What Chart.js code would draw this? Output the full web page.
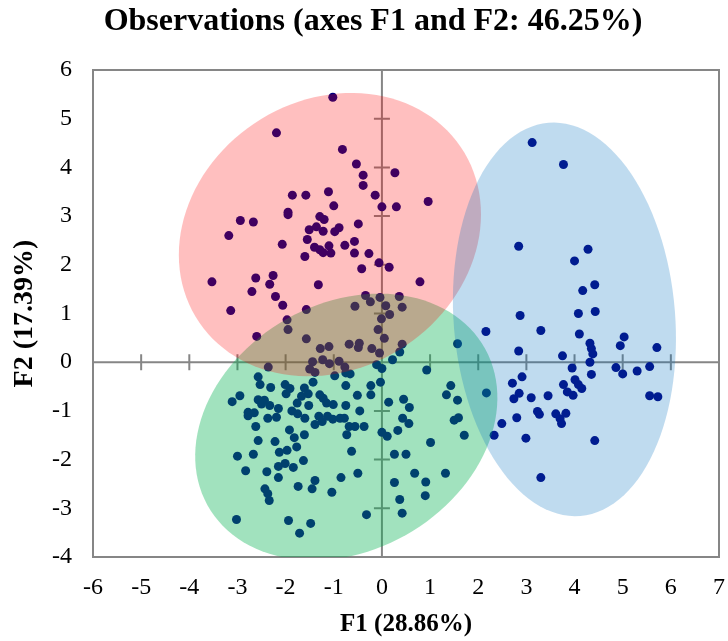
<!DOCTYPE html>
<html>
<head>
<meta charset="utf-8">
<title>Observations (axes F1 and F2)</title>
<script src="https://cdn.jsdelivr.net/npm/chart.js@4.4.1/dist/chart.umd.min.js"></script>
<style>
  html, body { margin: 0; padding: 0; background: #ffffff; }
  canvas { display: block; }
</style>
</head>
<body>
<canvas id="pcaChart" width="728" height="641"></canvas>
<script>
// =========================
// Observation scores (F1, F2)
// =========================

const chartTitle = "Observations (axes F1 and F2: 46.25%)";

// upper group
const group1X = [-1.02, -2.19, -0.82, -0.53, -0.39, -0.39, 0.27, -0.14, 0.00, 0.30, 0.96, -1.86, -1.58, -1.11, -1.00,
  -1.95, -1.95, -2.94, -2.67, -3.18, -1.29, -1.20, -1.36, -1.51, -1.22, -0.89, -0.98, -0.49, -1.55, -2.07, -1.40,
  -1.10, -0.77, -0.57, -1.29, -1.22, -1.06, -0.57, -0.27, -1.60, -0.42, -0.06, 0.15, 0.79, -3.53, -3.14, -2.62,
  -2.26, -2.33, -2.70, -2.21, -2.06, -2.60, -1.97, -1.95, -1.57, -1.57, -1.32, -0.34, -0.24, -0.04, 0.08, 0.16,
  -0.01, 0.36, 0.42, -0.56, -0.08, 0.05, 0.42, -1.28, -1.10, -0.68, -0.47, -0.49, -0.21, -0.05, -1.44, -1.23,
  -1.09, -0.89, -0.77, -1.50, -1.39, -2.36];
const group1Y = [5.44, 4.71, 4.37, 4.07, 3.84, 3.63, 3.89, 3.43, 3.19, 3.19, 3.30, 3.43, 3.43, 3.50, 3.21,
  3.08, 3.03, 2.91, 2.88, 2.60, 2.99, 2.93, 2.78, 2.72, 2.69, 2.76, 2.68, 2.84, 2.52, 2.42, 2.36,
  2.39, 2.40, 2.48, 2.31, 2.25, 2.24, 2.24, 2.23, 2.17, 1.92, 2.04, 1.95, 1.65, 1.65, 1.06, 1.73,
  1.78, 1.60, 1.45, 1.35, 1.17, 0.53, 0.87, 0.67, 1.08, 0.48, 1.59, 1.37, 1.24, 1.33, 1.16, 0.98,
  0.89, 1.35, 1.13, 1.15, 0.67, 0.49, 0.37, 0.28, 0.32, 0.37, 0.39, 0.30, 0.28, 0.19, 0.01, 0.05,
  -0.03, 0.02, -0.10, -0.14, -0.21, -0.10];

// lower-left group
const group2X = [-0.11, 0.00, 0.22, 0.37, 0.93, -0.75, -0.03, 1.43, 1.34, 1.57, 0.14, 0.45, 0.57, 0.43, 0.56,
  0.33, 0.00, 0.11, 1.50, 1.59, 1.71, 1.01, 0.26, 0.50, 0.68, 1.32, 0.26, 0.91, 0.90, 0.37, 0.42, 1.57,
  -2.57, -2.53, -2.31, -2.01, -1.99, -1.91, -1.61, -1.53, -1.43, -0.98, -0.75, -0.66, -0.23, -0.23, -0.51,
  -2.95, -3.11, -2.57, -2.44, -2.50, -2.33, -2.15, -2.78, -2.65, -2.78, -2.37, -2.19, -2.62, -1.87, -1.76,
  -1.67, -1.52, -1.75, -1.60, -1.29, -1.22, -1.15, -1.01, -0.75, -0.46, -1.31, -1.24, -1.39, -1.13, -1.02,
  -0.87, -0.78, -0.68, -0.56, -0.37, -0.73, -1.92, -1.82, -1.61, -2.57, -2.22, -1.77, -1.97, -2.13, -3.00,
  -2.67, -1.63, -0.63, -2.15, -2.01, -1.84, -2.83, -2.39, -2.15, -1.39, -1.45, -1.74, -0.85, -0.50, -1.04,
  -2.43, -2.37, -2.34, -3.02, -1.94, -1.48, -1.71, -0.32];
const group2Y = [-0.05, -0.13, 0.05, 0.21, -0.16, -0.22, -0.41, -0.48, -0.67, -0.78, -0.82, -0.76, -0.93, -1.15, -1.26,
  -1.40, -1.44, -1.52, -1.19, -1.14, -1.50, -1.65, -1.89, -1.89, -2.28, -2.28, -2.47, -2.46, -2.74, -2.82, -3.10, 0.38,
  -0.30, -0.46, -0.52, -0.46, -0.65, -0.54, -0.53, -0.65, -0.41, -0.28, -0.48, -0.24, -0.48, -0.67, -0.68,
  -0.69, -0.81, -0.77, -0.78, -0.86, -0.89, -0.95, -1.03, -1.04, -1.10, -1.15, -1.13, -1.32, -1.00, -0.84,
  -0.70, -0.89, -1.06, -1.15, -0.67, -0.74, -0.84, -0.87, -0.89, -1.00, -1.11, -1.22, -1.28, -1.11, -1.17,
  -1.15, -1.15, -1.32, -1.32, -1.32, -1.49, -1.39, -1.55, -1.49, -1.61, -1.63, -1.74, -1.81, -1.85, -1.93,
  -1.89, -2.02, -1.83, -2.14, -2.08, -2.16, -2.23, -2.25, -2.37, -2.43, -2.60, -2.55, -2.37, -2.28, -2.67,
  -2.60, -2.70, -2.84, -3.23, -3.25, -3.31, -3.51, -3.13];

// right group
const group3X = [3.12, 3.77, 2.84, 4.28, 4.00, 4.42, 4.17, 2.87, 4.08, 4.43, 2.16, 3.30, 4.10, 5.03, 2.84,
  3.75, 4.32, 4.35, 4.38, 4.32, 4.95, 5.71, 3.95, 4.86, 5.00, 5.30, 5.56, 4.35, 2.91, 2.71, 4.01, 3.77,
  4.08, 4.15, 3.85, 3.97, 2.85, 2.74, 3.10, 3.45, 5.56, 5.73, 3.23, 3.27, 3.61, 3.82, 3.70, 3.73, 2.80,
  2.49, 2.33, 2.99, 4.42, 3.30, 2.17];
const group3Y = [4.51, 4.06, 2.38, 2.32, 2.08, 1.59, 1.47, 0.96, 1.00, 1.04, 0.63, 0.65, 0.58, 0.52, 0.23,
  0.13, 0.39, 0.28, 0.17, 0.00, 0.34, 0.30, -0.12, -0.11, -0.24, -0.18, -0.09, -0.25, -0.30, -0.43, -0.36, -0.46,
  -0.46, -0.54, -0.61, -0.68, -0.64, -0.75, -0.73, -0.69, -0.69, -0.71, -1.01, -1.07, -1.06, -1.05, -1.16, -1.26, -1.14,
  -1.26, -1.50, -1.56, -1.61, -2.37, -0.63];

// =========================
// Group ellipses (draw order: lower-left, upper, right)
// =========================

const ellipseCenterX = [-0.74, -1.08, 3.79];
const ellipseCenterY = [-1.33, 2.62, 0.88];
const ellipseSemiMajor = [3.30, 3.26, 4.05];
const ellipseSemiMinor = [2.54, 2.77, 2.30];
const ellipseAngleDeg = [29, 31, 94.7];
const ellipseColors = ["rgba(0, 176, 80, 0.37)", "rgba(255, 0, 0, 0.25)", "rgba(0, 112, 192, 0.25)"];

const xTickMin = -6;
const xTickMax = 7;
const yTickMin = -4;
const yTickMax = 6;

const AXIS_GREY = "#868686";
const POINT_COLOR = "#000080";
const serif = "'Liberation Serif', 'Times New Roman', serif";

function toPoints(xs, ys) {
  return xs.map((x, i) => ({ x, y: ys[i] }));
}

const allPoints = [
  ...toPoints(group1X, group1Y),
  ...toPoints(group2X, group2Y),
  ...toPoints(group3X, group3Y),
];

// =========================
// Plugins
// =========================

// frame around the plot area + axes crossing at the origin
const crossAxesPlugin = {
  id: "crossAxes",
  beforeDatasetsDraw(chart) {
    const { ctx, chartArea, scales } = chart;
    const x0 = scales.x.getPixelForValue(0);
    const y0 = scales.y.getPixelForValue(0);
    ctx.save();
    ctx.strokeStyle = AXIS_GREY;
    ctx.lineWidth = 2;

    ctx.beginPath();
    ctx.moveTo(chartArea.left, y0);
    ctx.lineTo(chartArea.right, y0);
    ctx.moveTo(x0, chartArea.top);
    ctx.lineTo(x0, chartArea.bottom);

    for (let v = xTickMin + 1; v < xTickMax; v++) {
      if (v === 0) continue;
      const px = scales.x.getPixelForValue(v);
      ctx.moveTo(px, y0 - 8);
      ctx.lineTo(px, y0 + 8);
    }
    for (let v = yTickMin; v <= yTickMax; v++) {
      if (v === 0) continue;
      const py = scales.y.getPixelForValue(v);
      ctx.moveTo(x0 - 8, py);
      ctx.lineTo(x0 + 8, py);
    }
    ctx.stroke();

    ctx.strokeRect(chartArea.left, chartArea.top, chartArea.right - chartArea.left, chartArea.bottom - chartArea.top);
    ctx.restore();
  },
};

// translucent group ellipses, drawn over the points
const ellipsePlugin = {
  id: "groupEllipses",
  afterDatasetsDraw(chart) {
    const { ctx, chartArea, scales } = chart;
    ctx.save();
    ctx.beginPath();
    ctx.rect(chartArea.left, chartArea.top, chartArea.right - chartArea.left, chartArea.bottom - chartArea.top);
    ctx.clip();

    ellipseCenterX.forEach((cx, i) => {
      const cy = ellipseCenterY[i];
      const a = ellipseSemiMajor[i];
      const b = ellipseSemiMinor[i];
      const th = (ellipseAngleDeg[i] * Math.PI) / 180;
      const steps = 120;
      ctx.beginPath();
      for (let k = 0; k <= steps; k++) {
        const t = (k / steps) * Math.PI * 2;
        const ex = cx + a * Math.cos(t) * Math.cos(th) - b * Math.sin(t) * Math.sin(th);
        const ey = cy + a * Math.cos(t) * Math.sin(th) + b * Math.sin(t) * Math.cos(th);
        const px = scales.x.getPixelForValue(ex);
        const py = scales.y.getPixelForValue(ey);
        if (k === 0) ctx.moveTo(px, py);
        else ctx.lineTo(px, py);
      }
      ctx.closePath();
      ctx.fillStyle = ellipseColors[i];
      ctx.fill();
    });
    ctx.restore();
  },
};

// title centred over the plot frame rather than the whole canvas
const titlePlugin = {
  id: "plotTitle",
  afterDraw(chart) {
    const { ctx } = chart;
    ctx.save();
    ctx.font = "bold 32px " + serif;
    ctx.fillStyle = "#000000";
    ctx.textAlign = "center";
    ctx.textBaseline = "middle";
    ctx.fillText(chartTitle, 373, 22);
    ctx.restore();
  },
};

// =========================
// Chart
// =========================

new Chart(document.getElementById("pcaChart"), {
  type: "scatter",
  data: {
    datasets: [
      {
        label: "Observations",
        data: allPoints,
        backgroundColor: POINT_COLOR,
        borderColor: POINT_COLOR,
        borderWidth: 0,
        pointRadius: 4.5,
        pointHoverRadius: 4.5,
      },
    ],
  },
  options: {
    responsive: false,
    devicePixelRatio: 1,
    animation: false,
    layout: { padding: { top: 70, left: 0, right: 9, bottom: 0 } },
    plugins: {
      legend: { display: false },
      tooltip: { enabled: false },
      title: { display: false },
    },
    scales: {
      x: {
        type: "linear",
        min: xTickMin,
        max: xTickMax,
        ticks: {
          stepSize: 1,
          color: "#000000",
          padding: 0,
          font: { family: serif, size: 24 },
        },
        // tick marks are not drawn; tickLength only spaces the labels
        grid: { display: false, drawTicks: true, tickLength: 16 },
        border: { display: false },
        title: {
          display: true,
          text: "F1 (28.86%)",
          color: "#000000",
          font: { family: serif, size: 25, weight: "bold", lineHeight: 1.2 },
          padding: { top: 0, bottom: 1 },
        },
        afterFit: (scale) => {
          scale.height = 84;
        },
      },
      y: {
        type: "linear",
        min: yTickMin,
        max: yTickMax,
        ticks: {
          stepSize: 1,
          color: "#000000",
          padding: 0,
          font: { family: serif, size: 24 },
        },
        grid: { display: false, drawTicks: true, tickLength: 21 },
        border: { display: false },
        title: {
          display: true,
          text: "F2 (17.39%)",
          color: "#000000",
          font: { family: serif, size: 28, weight: "bold", lineHeight: 1.2 },
          padding: { top: 8, bottom: 0 },
        },
        afterFit: (scale) => {
          scale.width = 93;
        },
      },
    },
  },
  plugins: [crossAxesPlugin, ellipsePlugin, titlePlugin],
});
</script>
</body>
</html>
